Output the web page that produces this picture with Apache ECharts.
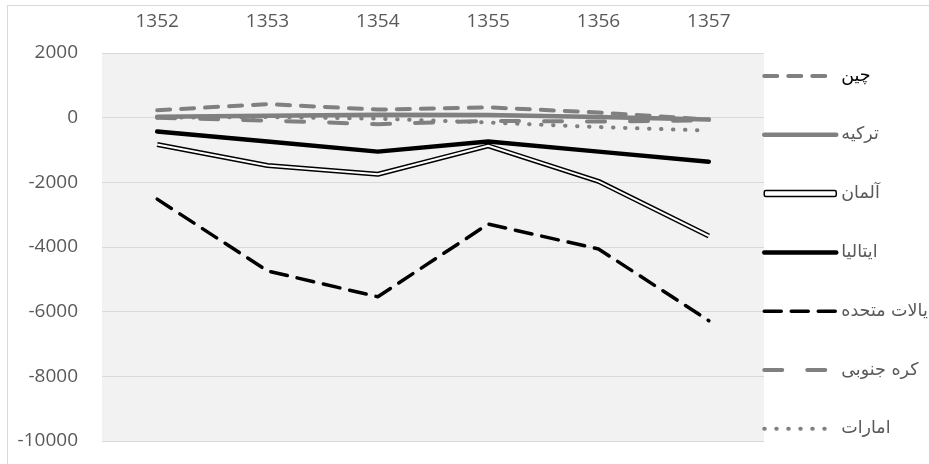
<!DOCTYPE html>
<html lang="fa">
<head>
    <meta charset="utf-8" />
    <title>chart</title>
    <script src="https://cdn.jsdelivr.net/npm/echarts@6/dist/echarts.min.js"></script>
</head>
<body style="margin:0;background:#fff">
    <div id="container" style="width:929px;height:464px;"></div>
<script type="text/javascript">
    var years = ['1352', '1353', '1354', '1355', '1356', '1357'];
    var china = [230, 420, 250, 320, 160, -60];
    var turkey = [30, 60, 90, 80, 20, -60];
    var germany = [-830, -1480, -1750, -870, -1970, -3660];
    var italy = [-430, -740, -1050, -740, -1050, -1360];
    var usa = [-2520, -4740, -5540, -3290, -4060, -6280];
    var korea = [0, -90, -200, -100, -120, -80];
    var uae = [0, 20, -30, -150, -290, -400];

    var gray = '#808080';
    var labelFont = 'Open Sans';

    var myChart = echarts.init(document.getElementById('container'));

    function line(name, data, style, z) {
        return {
            name: name,
            type: 'line',
            data: data,
            symbol: 'none',
            z: z,
            lineStyle: style,
            emphasis: { disabled: true }
        };
    }

    var option = {
        animation: false,
        backgroundColor: '#fff',
        graphic: [
            { type: 'line', shape: { x1: 7, y1: 5.5, x2: 929, y2: 5.5 }, style: { stroke: '#d9d9d9', lineWidth: 1 } },
            { type: 'line', shape: { x1: 7.5, y1: 5, x2: 7.5, y2: 464 }, style: { stroke: '#d9d9d9', lineWidth: 1 } }
        ],
        grid: {
            left: 102, right: 165, top: 53, bottom: 23,
            show: true, backgroundColor: '#f2f2f2', borderWidth: 0
        },
        legend: {
            orient: 'vertical',
            left: 757,
            top: 61,
            itemWidth: 72,
            itemHeight: 6,
            itemGap: 38.8,
            itemStyle: { opacity: 0 },
            lineStyle: { width: 'inherit', type: 'inherit', cap: 'round' },
            textStyle: { color: '#595959', fontSize: 17.5, lineHeight: 20, fontFamily: 'DejaVu Sans' },
            data: [
                { name: 'چین', textStyle: { color: '#000' } },
                'ترکیه',
                { name: 'آلمان', icon: 'roundRect', itemStyle: { opacity: 1, color: '#fff', borderColor: '#000', borderWidth: 1.5 } },
                'ایتالیا',
                'یالات متحده',
                'کره جنوبی',
                'امارات'
            ]
        },
        xAxis: {
            type: 'category',
            position: 'top',
            data: years,
            axisLine: { show: false },
            axisTick: { show: false },
            axisLabel: { color: '#595959', fontSize: 19, fontFamily: labelFont, margin: 22 }
        },
        yAxis: {
            type: 'value',
            min: -10000,
            max: 2000,
            interval: 2000,
            axisLine: { show: false },
            axisTick: { show: false },
            axisLabel: {
                color: '#595959', fontSize: 19, fontFamily: labelFont, margin: 24,
                formatter: function (v) { return String(v); }
            },
            splitLine: { lineStyle: { color: '#d9d9d9', width: 1 } }
        },
        series: [
            line('آلمان', germany, { color: '#000', width: 5 }, 2),
            { name: 'آلمان', type: 'line', data: germany, symbol: 'none', z: 3, lineStyle: { color: '#fff', width: 2 }, itemStyle: { color: '#fff' }, emphasis: { disabled: true } },
            line('ایتالیا', italy, { color: '#000', width: 4.5, cap: 'round' }, 2),
            line('یالات متحده', usa, { color: '#000', width: 3.5, type: [17, 10], cap: 'round' }, 2),
            line('امارات', uae, { color: gray, width: 4, type: [0.5, 11.5], cap: 'round' }, 2),
            line('کره جنوبی', korea, { color: gray, width: 4, type: [18, 25], cap: 'round' }, 2),
            line('ترکیه', turkey, { color: gray, width: 4.5, cap: 'round' }, 2),
            line('چین', china, { color: gray, width: 4, type: [13, 11], cap: 'round' }, 2)
        ]
    };
    myChart.setOption(option);
</script>
</body>
</html>
